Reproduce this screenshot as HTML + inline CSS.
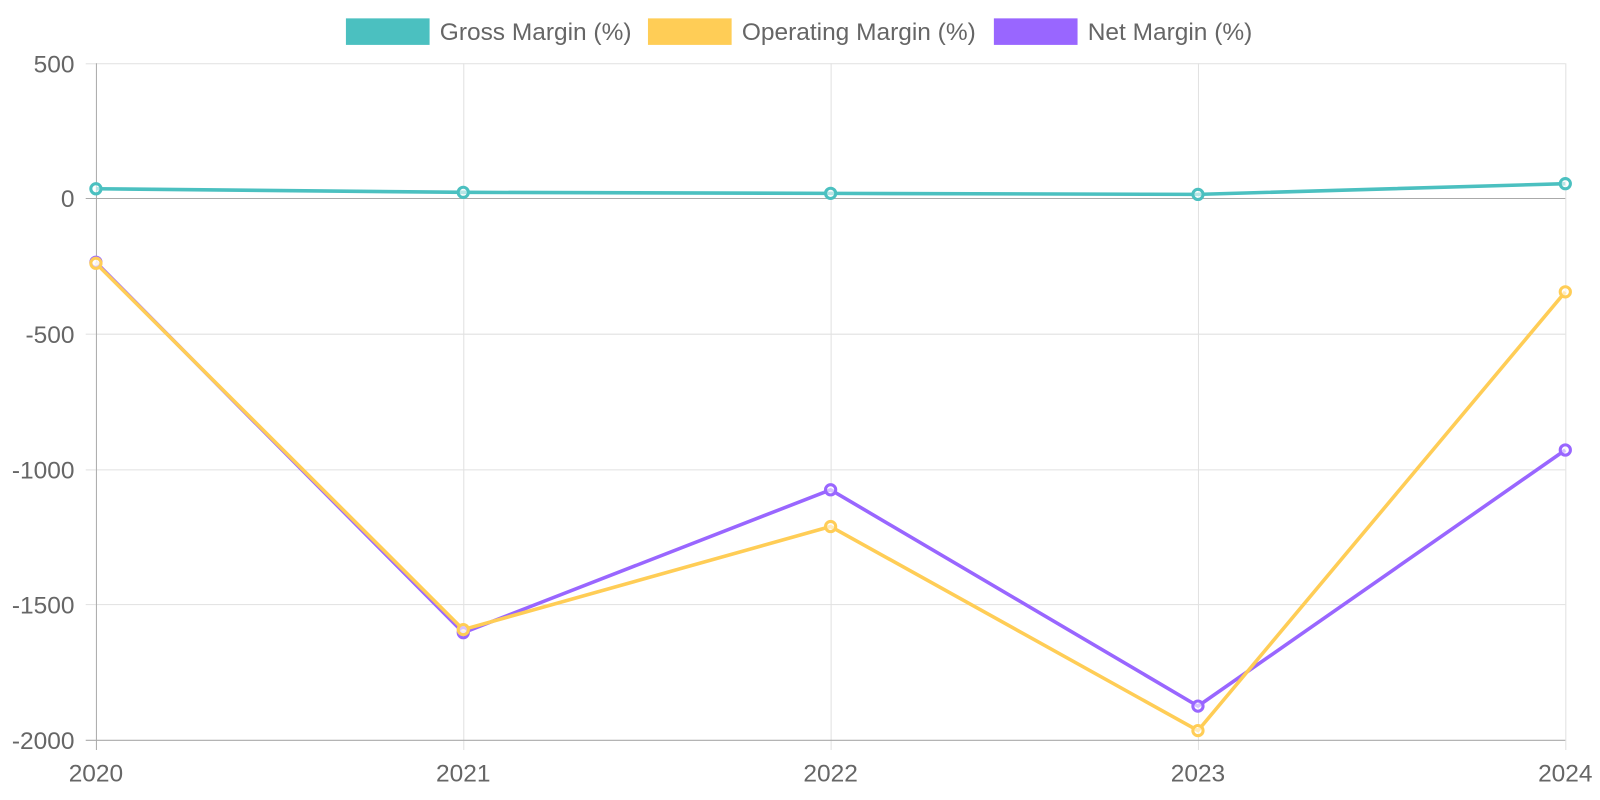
<!DOCTYPE html>
<html><head><meta charset="utf-8"><style>
html,body{margin:0;padding:0;background:#fff;overflow:hidden;}
svg{display:block;font-family:"Liberation Sans",sans-serif;}
</style></head><body>
<svg width="1600" height="800" viewBox="0 0 1568 784" xmlns="http://www.w3.org/2000/svg">
<g stroke="#e1e1e1" stroke-width="1">
<line x1="94" y1="62.5" x2="1534" y2="62.5"/>
<line x1="94" y1="327.5" x2="1534" y2="327.5"/>
<line x1="94" y1="460.5" x2="1534" y2="460.5"/>
<line x1="94" y1="592.5" x2="1534" y2="592.5"/>
<line x1="454.5" y1="62" x2="454.5" y2="735"/>
<line x1="814.5" y1="62" x2="814.5" y2="735"/>
<line x1="1174.5" y1="62" x2="1174.5" y2="735"/>
<line x1="1534.5" y1="62" x2="1534.5" y2="735"/>
<line x1="84" y1="62.5" x2="94" y2="62.5"/>
<line x1="84" y1="327.5" x2="94" y2="327.5"/>
<line x1="84" y1="460.5" x2="94" y2="460.5"/>
<line x1="84" y1="592.5" x2="94" y2="592.5"/>
</g>
<g stroke="#aaa" stroke-width="1">
<line x1="84" y1="194.5" x2="1534" y2="194.5"/>
<line x1="84" y1="725.5" x2="1534" y2="725.5"/>
<line x1="94.5" y1="62" x2="94.5" y2="735"/>
</g>
<g fill="#666" font-size="24" text-anchor="end">
<text x="73" y="71">500</text>
<text x="73" y="203">0</text>
<text x="73" y="336">-500</text>
<text x="73" y="469">-1000</text>
<text x="73" y="601">-1500</text>
<text x="73" y="734">-2000</text>
</g>
<g fill="#666" font-size="24" text-anchor="middle">
<text x="94" y="766">2020</text>
<text x="454" y="766">2021</text>
<text x="814" y="766">2022</text>
<text x="1174" y="766">2023</text>
<text x="1534" y="766">2024</text>
</g>
<g font-size="24" fill="#666">
<rect x="339" y="18" width="82" height="26" fill="#4BC0C0"/>
<text x="431" y="39">Gross Margin (%)</text>
<rect x="635" y="18" width="82" height="26" fill="#FFCD56"/>
<text x="727" y="39">Operating Margin (%)</text>
<rect x="974" y="18" width="82" height="26" fill="#9966FF"/>
<text x="1066" y="39">Net Margin (%)</text>
</g>
<g fill="none" stroke-width="3.5" stroke-linejoin="round">
<polyline stroke="#4BC0C0" points="94,185 454,188.5 814,189.5 1174,190.5 1534,180"/>
<polyline stroke="#9966FF" points="94,257 454,620 814,480 1174,692 1534,441"/>
<polyline stroke="#FFCD56" points="94,258 454,617 814,516 1174,716 1534,286"/>
</g>
<g fill="rgba(255,255,255,0.6)" stroke-width="3">
<g stroke="#4BC0C0">
<circle cx="94" cy="185" r="5"/><circle cx="454" cy="188.5" r="5"/><circle cx="814" cy="189.5" r="5"/><circle cx="1174" cy="190.5" r="5"/><circle cx="1534" cy="180" r="5"/>
</g>
<g stroke="#9966FF">
<circle cx="94" cy="257" r="5"/><circle cx="454" cy="620" r="5"/><circle cx="814" cy="480" r="5"/><circle cx="1174" cy="692" r="5"/><circle cx="1534" cy="441" r="5"/>
</g>
<g stroke="#FFCD56">
<circle cx="94" cy="258" r="5"/><circle cx="454" cy="617" r="5"/><circle cx="814" cy="516" r="5"/><circle cx="1174" cy="716" r="5"/><circle cx="1534" cy="286" r="5"/>
</g>
</g>
</svg>
</body></html>
